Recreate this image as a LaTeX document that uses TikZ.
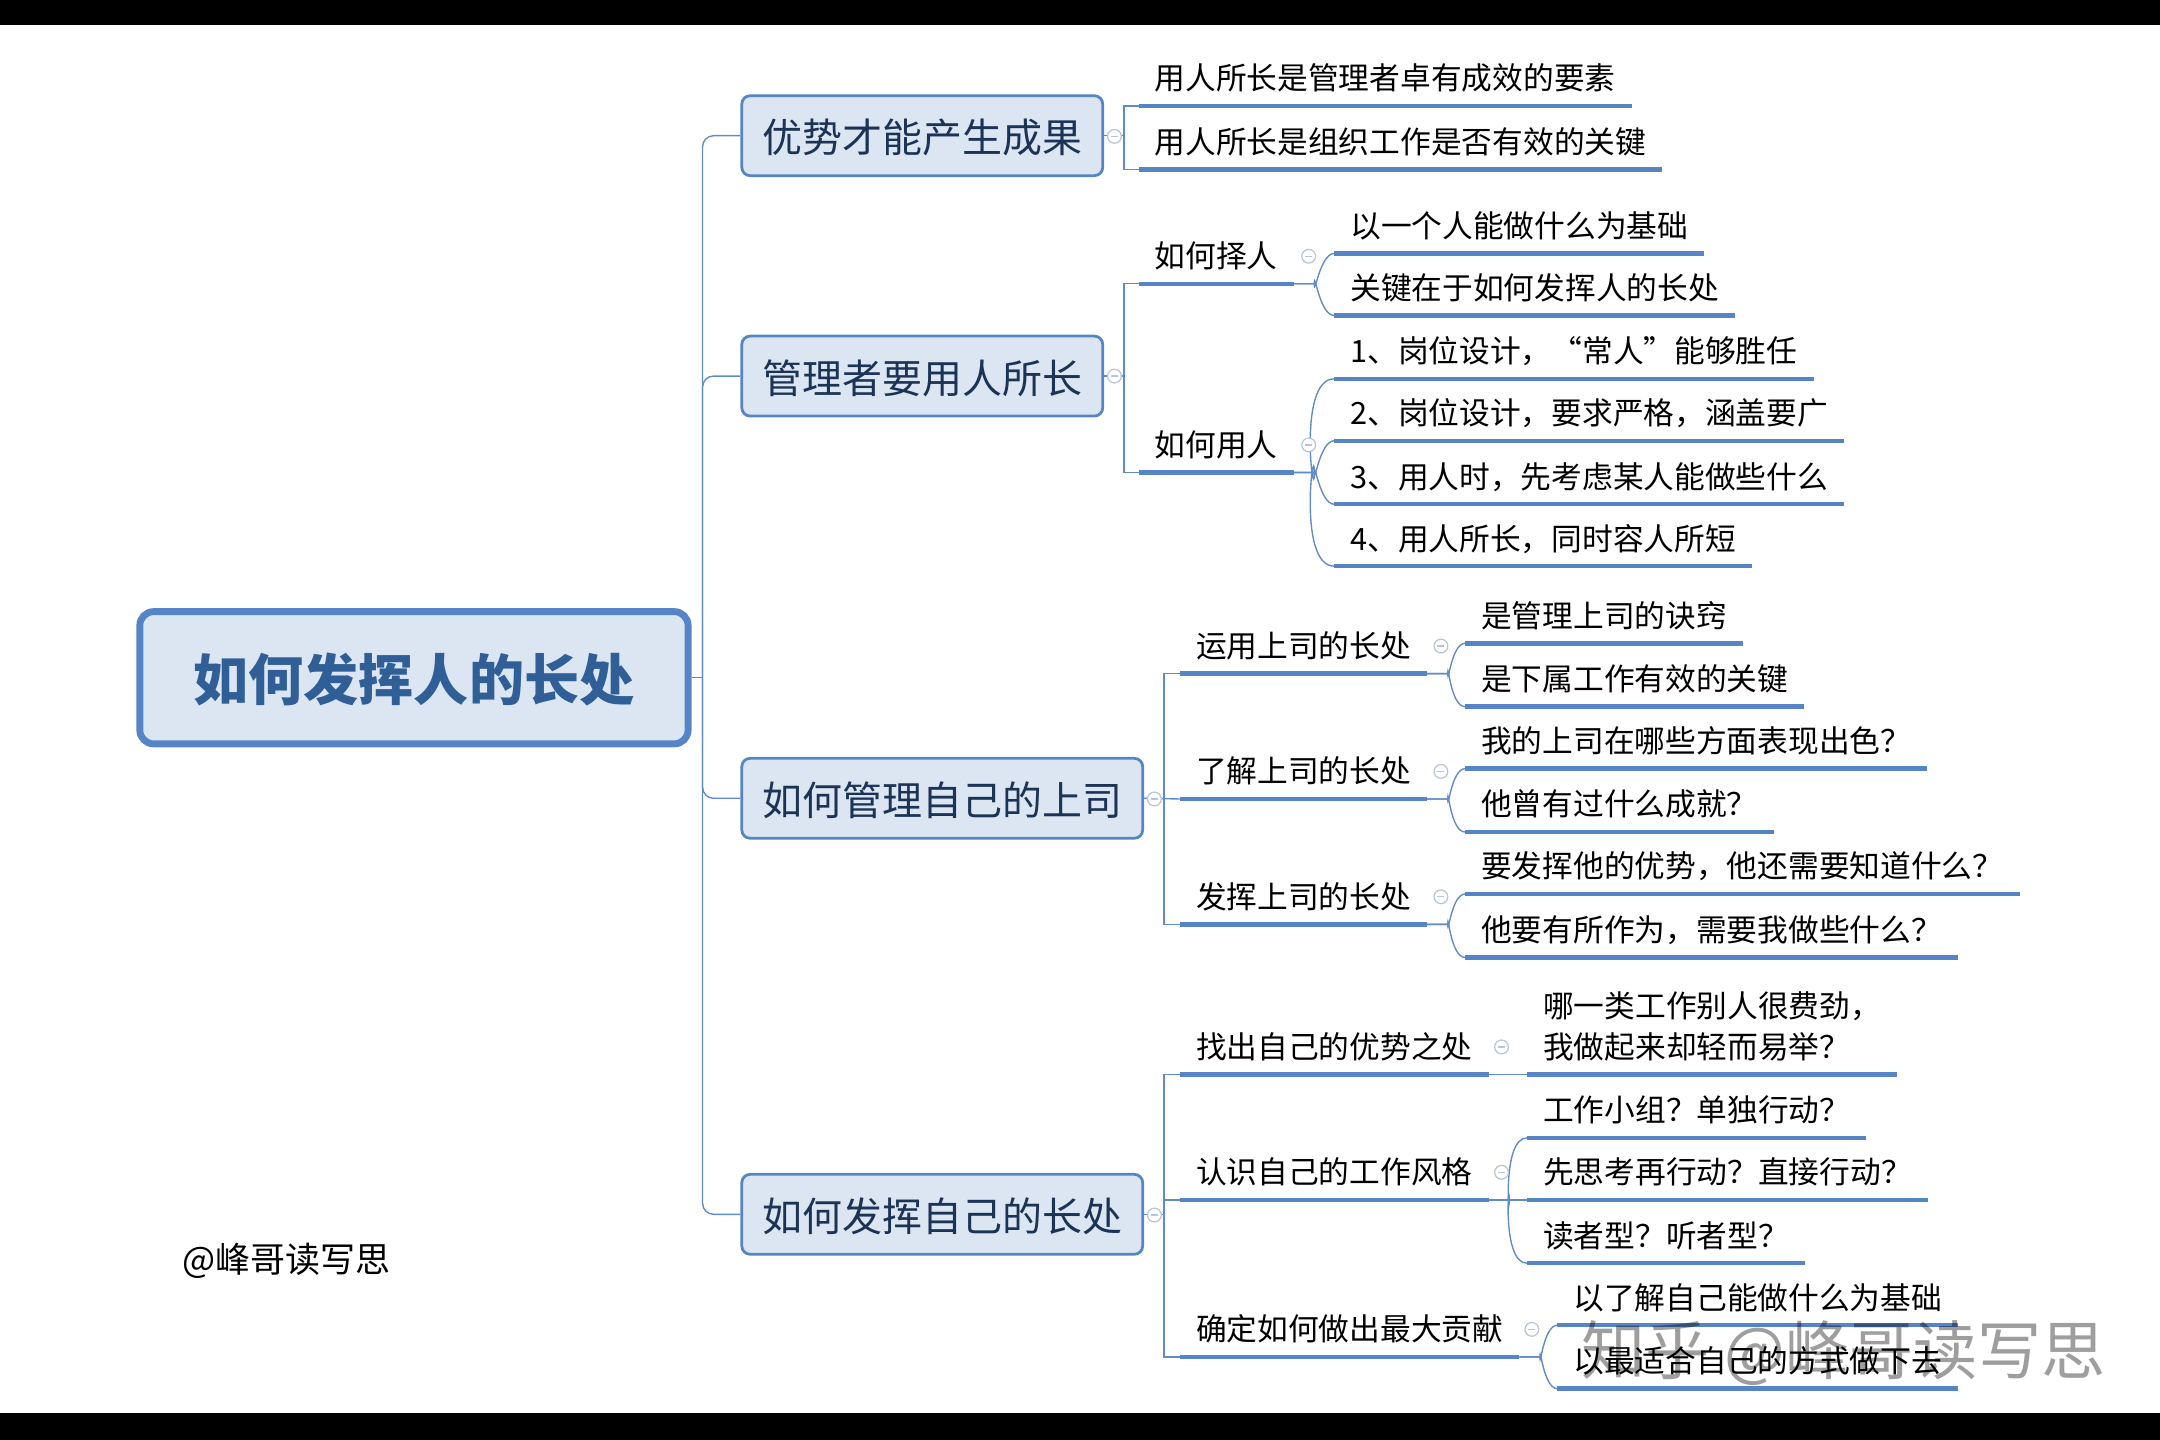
\documentclass[tikz,border=0pt]{standalone}
\usepackage{fontspec}
\setmainfont{Noto Sans CJK SC}
\definecolor{linkblue}{HTML}{5F8CC6}
\definecolor{barblue}{HTML}{5585C6}
\definecolor{boxfill}{HTML}{DCE6F2}
\definecolor{titleblue}{HTML}{2F5F96}
\definecolor{mainink}{HTML}{1B3355}
\definecolor{foldgray}{HTML}{B8C4DC}
\tikzset{
    link/.style = {draw=linkblue, line width=1pt},
    bar/.style = {draw=barblue, line width=3.2pt},
    root-box/.style = {draw=barblue, fill=boxfill, line width=5pt, rectangle, rounded corners=10pt, minimum width=398pt, minimum height=96pt, text=titleblue, text height=38pt, text depth=4.6pt, font=\fontsize{40}{48}\selectfont\bfseries},
    main-box/.style = {draw=barblue, fill=boxfill, line width=2pt, rectangle, rounded corners=6pt, anchor=west, minimum height=58pt, text=mainink, inner xsep=15pt, text height=28pt, text depth=3pt, font=\fontsize{29}{34}\selectfont},
    leaf/.style = {anchor=south west, inner xsep=11.5pt, inner ysep=5.5pt, text height=18pt, text depth=6pt, text=black, font=\fontsize{22.3}{30}\selectfont,
        append after command={(\tikzlastnode.south west) edge[bar] (\tikzlastnode.south east)}},
    fold/.style = {circle, draw=foldgray, fill=white, line width=.9pt, minimum size=10pt, inner sep=0pt,
        path picture={\draw[foldgray, line width=.9pt] ([xshift=-2.5pt]path picture bounding box.center) -- ([xshift=2.5pt]path picture bounding box.center);}},
}
\begin{document}
\begin{tikzpicture}[x=1pt, y=-1pt]
\useasboundingbox (0,0) rectangle (1568,1045.33);
\fill[black] (0,0) rectangle (1568,18.5);
\fill[black] (0,1026) rectangle (1568,1045.33);

% root and main topics
\node [root-box] (root) at (300.5,492) {如何发挥人的长处};
\node [main-box] (top1) at (537.5,98.5) {优势才能产生成果};
\node [main-box] (top2) at (537.5,273) {管理者要用人所长};
\node [main-box] (top3) at (537.5,579.5) {如何管理自己的上司};
\node [main-box] (top4) at (537.5,881.5) {如何发挥自己的长处};

\coordinate (trunk) at (510,492);
\draw [link] (root.east) -- (trunk);
\draw [link, rounded corners=8pt] (trunk) |- (top1.west);
\draw [link, rounded corners=8pt] (trunk) |- (top2.west);
\draw [link, rounded corners=8pt] (trunk) |- (top3.west);
\draw [link, rounded corners=8pt] (trunk) |- (top4.west);

% first topic
\node [leaf] (a1) at (826.5,77) {用人所长是管理者卓有成效的要素};
\node [leaf] (a2) at (826.5,123) {用人所长是组织工作是否有效的关键};
\coordinate (fork1) at (816,98.5);
\draw [link] (top1.east) -- (fork1);
\draw [link] (fork1) |- (a1.south west);
\draw [link] (fork1) |- (a2.south west);

% second topic
\node [leaf] (b1) at (826.5,206) {如何择人};
\node [leaf] (b2) at (826.5,343) {如何用人};
\coordinate (fork2) at (816,273);
\draw [link] (top2.east) -- (fork2);
\draw [link] (fork2) |- (b1.south west);
\draw [link] (fork2) |- (b2.south west);

\node [leaf] (b11) at (968.5,184) {以一个人能做什么为基础};
\node [leaf] (b12) at (968.5,229) {关键在于如何发挥人的长处};
\draw [link] (b1.south east) -- ++(15,0) to[out=-90,in=180] (b11.south west);
\draw [link] (b1.south east) -- ++(15,0) to[out=90,in=180] (b12.south west);

\node [leaf] (b21) at (968.5,275) {1、岗位设计，“常人”能够胜任};
\node [leaf] (b22) at (968.5,320) {2、岗位设计，要求严格，涵盖要广};
\node [leaf] (b23) at (968.5,366) {3、用人时，先考虑某人能做些什么};
\node [leaf] (b24) at (968.5,411) {4、用人所长，同时容人所短};
\draw [link] (b2.south east) -- ++(15,0) to[out=-90,in=180] (b21.south west);
\draw [link] (b2.south east) -- ++(15,0) to[out=-90,in=180] (b22.south west);
\draw [link] (b2.south east) -- ++(15,0) to[out=90,in=180] (b23.south west);
\draw [link] (b2.south east) -- ++(15,0) to[out=90,in=180] (b24.south west);

% third topic
\node [leaf] (c1) at (856.5,489) {运用上司的长处};
\node [leaf] (c2) at (856.5,580) {了解上司的长处};
\node [leaf] (c3) at (856.5,671) {发挥上司的长处};
\coordinate (fork3) at (845,580);
\draw [link] (top3.east) -- (c2.south west);
\draw [link] (fork3) |- (c1.south west);
\draw [link] (fork3) |- (c3.south west);

\node [leaf] (c11) at (1063.5,467) {是管理上司的诀窍};
\node [leaf] (c12) at (1063.5,513) {是下属工作有效的关键};
\node [leaf] (c21) at (1063.5,558) {我的上司在哪些方面表现出色？};
\node [leaf] (c22) at (1063.5,604) {他曾有过什么成就？};
\node [leaf] (c31) at (1063.5,649) {要发挥他的优势，他还需要知道什么？};
\node [leaf] (c32) at (1063.5,695) {他要有所作为，需要我做些什么？};
\draw [link] (c1.south east) -- ++(15,0) to[out=-90,in=180] (c11.south west);
\draw [link] (c1.south east) -- ++(15,0) to[out=90,in=180] (c12.south west);
\draw [link] (c2.south east) -- ++(15,0) to[out=-90,in=180] (c21.south west);
\draw [link] (c2.south east) -- ++(15,0) to[out=90,in=180] (c22.south west);
\draw [link] (c3.south east) -- ++(15,0) to[out=-90,in=180] (c31.south west);
\draw [link] (c3.south east) -- ++(15,0) to[out=90,in=180] (c32.south west);

% fourth topic
\node [leaf] (d1) at (856.5,780) {找出自己的优势之处};
\node [leaf] (d2) at (856.5,871) {认识自己的工作风格};
\node [leaf] (d3) at (856.5,985) {确定如何做出最大贡献};
\coordinate (fork4) at (845,881.5);
\draw [link] (top4.east) -- (fork4);
\draw [link] (fork4) |- (d1.south west);
\draw [link] (fork4) |- (d2.south west);
\draw [link] (fork4) |- (d3.south west);

\node [leaf, align=left, text height=48pt] (d11) at (1108.5,780) {哪一类工作别人很费劲，\\我做起来却轻而易举？};
\node [leaf] (d21) at (1108.5,826) {工作小组？单独行动？};
\node [leaf] (d22) at (1108.5,871) {先思考再行动？直接行动？};
\node [leaf] (d23) at (1108.5,917) {读者型？听者型？};
\node [leaf] (d31) at (1130.5,962) {以了解自己能做什么为基础};
\node [leaf] (d32) at (1130.5,1008) {以最适合自己的方式做下去};
\draw [link] (d1.south east) -- (d11.south west);
\draw [link] (d2.south east) -- (d22.south west);
\draw [link] (d2.south east) -- ++(15,0) to[out=-90,in=180] (d21.south west);
\draw [link] (d2.south east) -- ++(15,0) to[out=90,in=180] (d23.south west);
\draw [link] (d3.south east) -- ++(15,0) to[out=-90,in=180] (d31.south west);
\draw [link] (d3.south east) -- ++(15,0) to[out=90,in=180] (d32.south west);

% fold marks
\node [fold] (f1) at (809,99) {};
\node [fold] (f2) at (809,273) {};
\node [fold] (f3) at (838,580) {};
\node [fold] (f4) at (838,882) {};
\node [fold] (f5) at (950,186) {};
\node [fold] (f6) at (950,323) {};
\node [fold] (f7) at (1046,469) {};
\node [fold] (f8) at (1046,560) {};
\node [fold] (f9) at (1046,651) {};
\node [fold] (f10) at (1090,760) {};
\node [fold] (f11) at (1090,851) {};
\node [fold] (f12) at (1112,965) {};

% signature and watermark
\node [anchor=west, inner sep=0pt, text=black, font=\fontsize{25.4}{30}\selectfont] (credit) at (132,915) {@峰哥读写思};
\node [anchor=west, inner sep=0pt, text=black, text opacity=.38, font=\fontsize{46.6}{52}\selectfont] (mark) at (1148,982) {知乎 @峰哥读写思};
\end{tikzpicture}
\end{document}
